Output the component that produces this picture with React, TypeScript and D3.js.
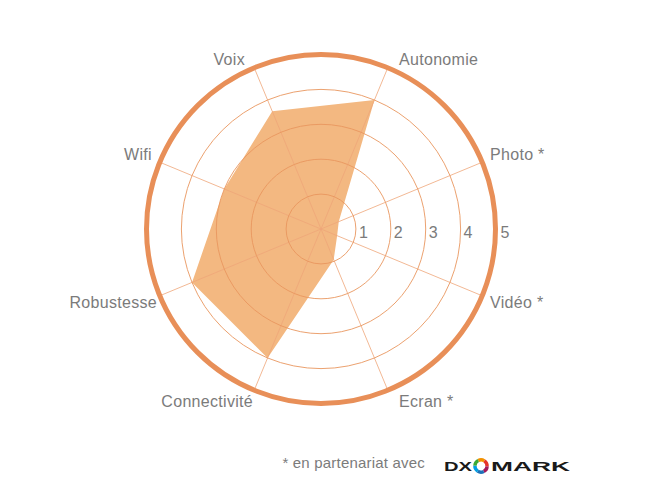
import * as d3 from 'd3';

// Radar scores (0–5), clockwise from the top-right axis
const axes = ['Autonomie', 'Photo *', 'Vidéo *', 'Ecran *', 'Connectivité', 'Robustesse', 'Wifi', 'Voix'];
const scores = [4.0, 0.55, 0.5, 0.95, 4.0, 4.0, 3.0, 3.65];
const ticks = [1, 2, 3, 4, 5];
const logoColors = ['#f29100', '#e6332a', '#a3195b', '#1d71b8', '#009fe3', '#3aaa35'];

const width = 645;
const height = 484;
const cx = 321;
const cy = 229;
const maxValue = 5;
const outerR = 174.5;

const font = '"Liberation Sans", Arial, Helvetica, sans-serif';
const grey = '#7b7b7b';

export default function App() {
  const r = d3.scaleLinear().domain([0, maxValue]).range([0, outerR]);
  const angle = d3.scaleLinear()
    .domain([0, axes.length])
    .range([Math.PI / 8, Math.PI / 8 + 2 * Math.PI]);

  const area = d3.lineRadial<number>()
    .angle((_, i) => angle(i))
    .radius(d => r(d))
    .curve(d3.curveLinearClosed);

  const dir = (i: number) => [Math.sin(angle(i)), -Math.cos(angle(i))];

  // logo ring segments
  const logoArc = d3.arc<d3.PieArcDatum<string>>().innerRadius(4.4).outerRadius(7.8);
  const logoPie = d3.pie<string>().value(1).sort(null).startAngle(-Math.PI * 0.15).endAngle(Math.PI * 1.85);

  return (
    <svg width={width} height={height} style={{ position: 'absolute', left: 0, top: 0, background: '#fff' }}>
      <g transform={`translate(${cx},${cy})`}>
        {/* filled score polygon */}
        <path d={area(scores) ?? ''} fill="#f3b881" stroke="none" />

        {/* spokes */}
        {axes.map((a, i) => {
          const [dx, dy] = dir(i);
          return (
            <line key={a} x1={0} y1={0} x2={dx * outerR} y2={dy * outerR}
              stroke="#efa678" strokeWidth={0.8} />
          );
        })}

        {/* inner rings */}
        {ticks.slice(0, -1).map(t => (
          <circle key={t} r={r(t)} fill="none" stroke="#e9965f" strokeWidth={0.9} />
        ))}

        {/* outer ring */}
        <circle r={r(maxValue)} fill="none" stroke="#e88f58" strokeWidth={5} />

        {/* tick labels */}
        {ticks.map(t => (
          <text key={t} x={r(t) + (t === maxValue ? 5 : 3)} y={5} dominantBaseline="middle"
            fontFamily={font} fontSize={16} fill={grey}>{t}</text>
        ))}

        {/* axis labels */}
        {axes.map((a, i) => {
          const [dx, dy] = dir(i);
          const R = 183;
          const steep = Math.abs(dy) > 0.5;
          let x = dx * R;
          if (dx > 0 && steep) x += 8;
          if (dx < 0) x += steep ? (dy < 0 ? -6 : 2) : (dy > 0 ? 5 : 0);
          const y = dy * R + (dy > 0 ? 5 : steep ? 1 : -3);
          return (
            <text key={a} x={x} y={y} textAnchor={dx > 0 ? 'start' : 'end'} dominantBaseline="middle"
              fontFamily={font} fontSize={16} letterSpacing={0.3} fill={grey}>{a}</text>
          );
        })}
      </g>

      {/* footer */}
      <text x={425} y={464} textAnchor="end" dominantBaseline="middle"
        fontFamily={font} fontSize={15} letterSpacing={0.2} fill={grey}>* en partenariat avec</text>
      <g fontFamily={font} fontWeight="bold" fontSize={13} fill="#1a1a1a">
        <text x={444} y={471} textLength={28} lengthAdjust="spacingAndGlyphs">DX</text>
        <g transform="translate(481,466)">
          {logoPie(logoColors).map((s, i) => (
            <path key={i} d={logoArc(s) ?? ''} fill={s.data} />
          ))}
        </g>
        <text x={491} y={471} textLength={79} lengthAdjust="spacingAndGlyphs">MARK</text>
      </g>
    </svg>
  );
}
